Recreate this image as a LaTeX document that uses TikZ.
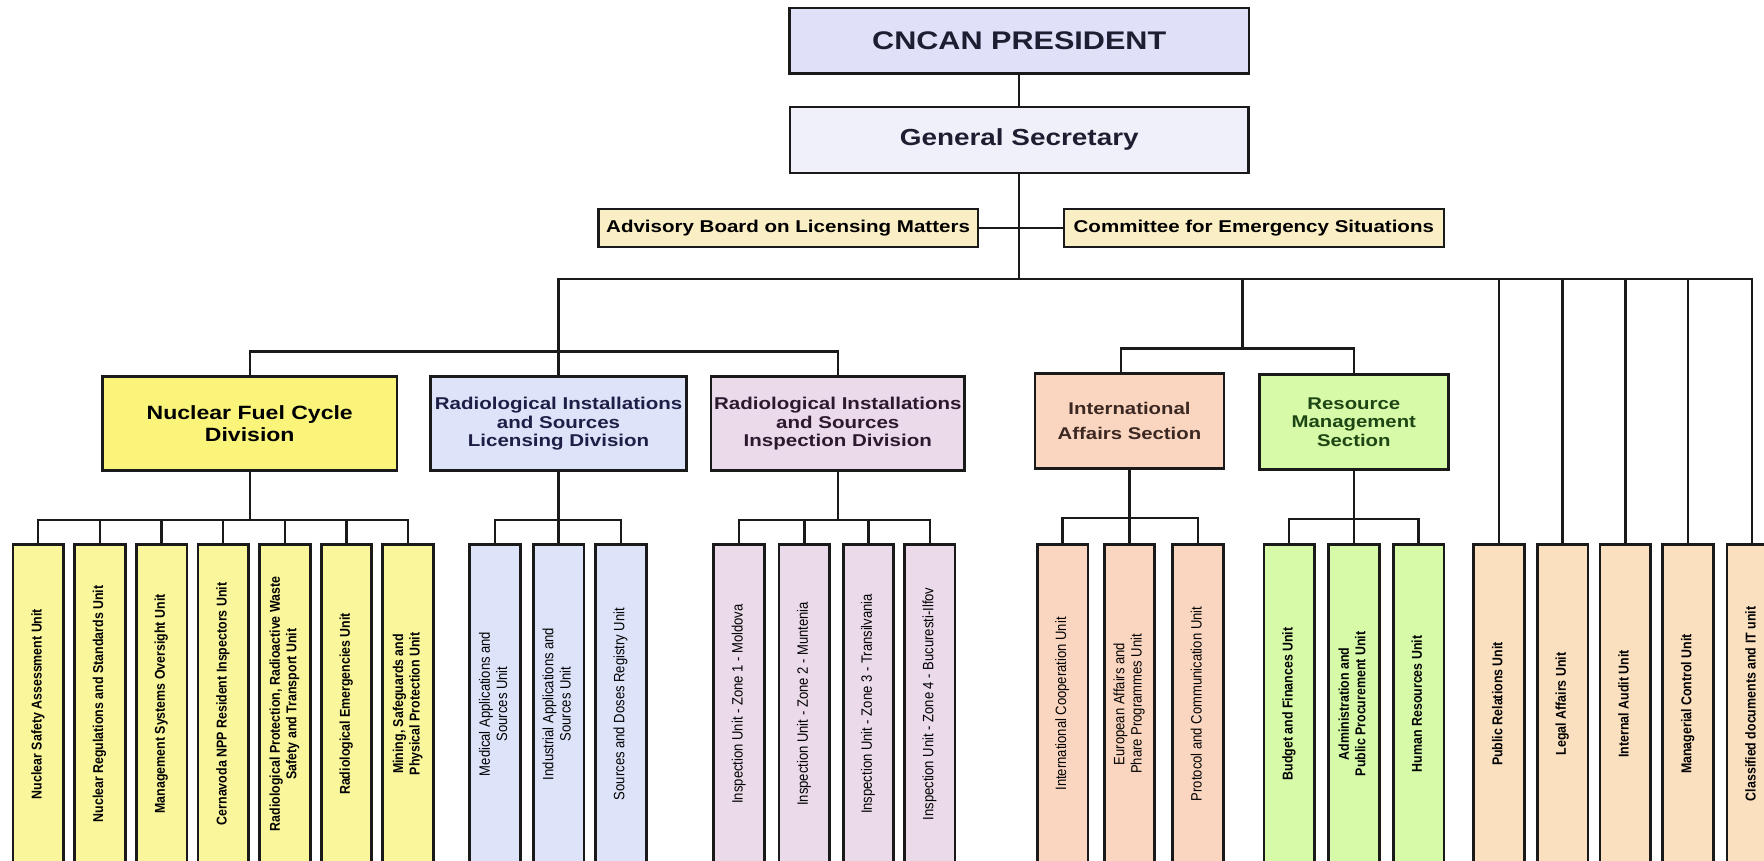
\documentclass[tikz,border=0pt]{standalone}
\usepackage{graphicx}
\usepackage{fontspec}
\setmainfont{Liberation Sans}[FakeStretch=1.2]
\newfontfamily\unitfont{Liberation Sans}[FakeStretch=0.87]

\definecolor{boxline}{RGB}{26,26,26}
\definecolor{presFill}{RGB}{224,224,248}
\definecolor{gsFill}{RGB}{240,240,250}
\definecolor{advFill}{RGB}{250,238,196}
\definecolor{nfcFill}{RGB}{250,244,122}
\definecolor{nfcUnit}{RGB}{250,246,155}
\definecolor{rislFill}{RGB}{221,228,250}
\definecolor{risiFill}{RGB}{234,218,234}
\definecolor{iaFill}{RGB}{250,214,192}
\definecolor{rmFill}{RGB}{214,250,168}
\definecolor{psFill}{RGB}{250,224,190}
\definecolor{presText}{RGB}{30,30,50}
\definecolor{rislText}{RGB}{30,30,70}
\definecolor{risiText}{RGB}{45,25,45}
\definecolor{iaText}{RGB}{60,40,35}
\definecolor{rmText}{RGB}{30,70,20}

\tikzset{every picture/.style={line width=1.6pt}}
\tikzset{
  link/.style={draw=boxline, line width=1.6pt},
  topbox/.style={draw=boxline, line width=1.5pt, inner sep=0pt, align=center},
  divbox/.style={draw=boxline, line width=1.8pt, inner sep=0pt, align=center, minimum height=62.8pt},
  unitbox/.style={draw=boxline, line width=1.8pt, inner sep=0pt, anchor=north, minimum width=33.75pt, minimum height=212.25pt},
  unitB/.style={unitbox, font=\unitfont\bfseries\fontsize{9.5}{11}\selectfont},
  unitR/.style={unitbox, font=\unitfont\fontsize{10}{11.5}\selectfont},
}
\newcommand{\vtext}[1]{\rotatebox{90}{\begin{tabular}{@{}c@{}}#1\end{tabular}}}

\begin{document}
\begin{tikzpicture}[x=0.75pt,y=0.75pt,yscale=-1,xscale=1]
	\useasboundingbox (0,0) rectangle (1568,765);

	%Shape: Rectangle [president and secretary]
	\node[topbox, fill=presFill, text=presText, minimum width=306.3pt, minimum height=43.4pt, font=\bfseries\fontsize{17}{20}\selectfont] (pres) at (906,36.3) {CNCAN PRESIDENT};
	\node[topbox, fill=gsFill, text=presText, minimum width=305.8pt, minimum height=44pt, font=\bfseries\fontsize{15.5}{18}\selectfont] (gensec) at (906,124.2) {General Secretary};
	%Shape: Rectangle [advisory bodies]
	\node[topbox, fill=advFill, minimum width=252.8pt, minimum height=25.5pt, font=\bfseries\fontsize{11.4}{13}\selectfont] (adv) at (700.5,202.8) {Advisory Board on Licensing Matters};
	\node[topbox, fill=advFill, minimum width=253.3pt, minimum height=25.5pt, font=\bfseries\fontsize{11.4}{13}\selectfont] (com) at (1114.5,202.8) {Committee for Emergency Situations};

	%Shape: Rectangle [divisions and sections]
	\node[divbox, fill=nfcFill, minimum width=196.5pt, font=\bfseries\fontsize{12.8}{14.5}\selectfont] (nfc) at (222,376.6) {Nuclear Fuel Cycle\\Division};
	\node[divbox, fill=rislFill, text=rislText, minimum width=170.3pt, font=\bfseries\fontsize{11.4}{12.3}\selectfont] (risl) at (496.5,376.6) {Radiological Installations\\and Sources\\Licensing Division};
	\node[divbox, fill=risiFill, text=risiText, minimum width=169pt, font=\bfseries\fontsize{11.4}{12.3}\selectfont] (risi) at (744.7,376.6) {Radiological Installations\\and Sources\\Inspection Division};
	\node[divbox, fill=iaFill, text=iaText, minimum width=126pt, minimum height=63.5pt, font=\bfseries\fontsize{11.3}{16.4}\selectfont] (ia) at (1004,374.3) {International\\Affairs Section};
	\node[divbox, fill=rmFill, text=rmText, minimum width=125.9pt, minimum height=63.4pt, font=\bfseries\fontsize{11.3}{12.4}\selectfont] (rm) at (1203.4,375) {Resource\\Management\\Section};

	%Shape: Rectangle [units]
	\foreach \x/\name [count=\i] in {34/{Nuclear Safety Assessment Unit}, 88.8/{Nuclear Regulations and Standards Unit}, 143.6/{Management Systems Oversight Unit}, 198.4/{Cernavoda NPP Resident Inspectors Unit}, 253.2/{Radiological Protection, Radioactive Waste\\Safety and Transport Unit}, 308/{Radiological Emergencies Unit}, 362.8/{Mining, Safeguards and\\Physical Protection Unit}}
		\node[unitB, fill=nfcUnit] (nfcU\i) at (\x,483) {\vtext{\name}};
	\foreach \x/\name [count=\i] in {440/{Medical Applications and\\Sources Unit}, 496.5/{Industrial Applications and\\Sources Unit}, 552/{Sources and Doses Registry Unit}}
		\node[unitR, fill=rislFill] (rislU\i) at (\x,483) {\vtext{\name}};
	\foreach \x/\name [count=\i] in {657/{Inspection Unit - Zone 1 - Moldova}, 715/{Inspection Unit - Zone 2 - Muntenia}, 772/{Inspection Unit - Zone 3 - Transilvania}, 826.5/{Inspection Unit - Zone 4 - Bucuresti-Ilfov}}
		\node[unitR, fill=risiFill] (risiU\i) at (\x,483) {\vtext{\name}};
	\foreach \x/\name [count=\i] in {944.5/{International Cooperation Unit}, 1004/{European Affairs and\\Phare Programmes Unit}, 1065/{Protocol and Communication Unit}}
		\node[unitR, fill=iaFill] (iaU\i) at (\x,483) {\vtext{\name}};
	\foreach \x/\name [count=\i] in {1146/{Budget and Finances Unit}, 1203.4/{Administration and\\Public Procurement Unit}, 1261/{Human Resources Unit}}
		\node[unitB, fill=rmFill] (rmU\i) at (\x,483) {\vtext{\name}};
	\foreach \x/\name [count=\i] in {1332.5/{Public Relations Unit}, 1389/{Legal Affairs Unit}, 1444.8/{Internal Audit Unit}, 1500.5/{Managerial Control Unit}, 1557.5/{Classified documents and IT unit}}
		\node[unitB, fill=psFill] (psU\i) at (\x,483) {\vtext{\name}};

	%Straight Lines [top]
	\coordinate (hub) at (906,248);
	\coordinate (divJ) at (496.5,312.6);
	\coordinate (secJ) at (1104.4,309.6);
	\draw[link] (pres) -- (gensec);
	\draw[link] (gensec.south) -- (hub);
	\draw[link] (adv) -- (com);
	\draw[link] (risl.north) |- (hub) -- (hub -| psU5.north) -- (psU5.north);
	\foreach \i in {1,...,4}
		\draw[link] (psU\i.north) -- (psU\i.north |- hub);
	\draw[link] (nfc.north) |- (divJ) -| (risi.north);
	\draw[link] (secJ |- hub) -- (secJ);
	\draw[link] ([xshift=-5.85pt]ia.north) |- (secJ) -| (rm.north);

	%Straight Lines [to units]
	\draw[link] (nfc.south) -- ++(0,42.6) coordinate (nfcJ);
	\draw[link] (nfcU1.north) |- (nfcJ) -| (nfcU7.north);
	\foreach \i in {2,...,6}
		\draw[link] (nfcU\i.north) -- (nfcU\i.north |- nfcJ);
	\draw[link] (risl.south) -- ++(0,42.6) coordinate (rislJ);
	\draw[link] (rislU1.north) |- (rislJ) -| (rislU3.north);
	\draw[link] (rislU2.north) -- (rislU2.north |- rislJ);
	\draw[link] (risi.south) -- ++(0,42.6) coordinate (risiJ);
	\draw[link] (risiU1.north) |- (risiJ) -| (risiU4.north);
	\foreach \i in {2,3}
		\draw[link] (risiU\i.north) -- (risiU\i.north |- risiJ);
	\draw[link] (ia.south) -- ++(0,42.6) coordinate (iaJ);
	\draw[link] (iaU1.north) |- (iaJ) -| (iaU3.north);
	\draw[link] (iaU2.north) -- (iaU2.north |- iaJ);
	\draw[link] (rm.south) -- ++(0,42.6) coordinate (rmJ);
	\draw[link] (rmU1.north) |- (rmJ) -| (rmU3.north);
	\draw[link] (rmU2.north) -- (rmU2.north |- rmJ);

\end{tikzpicture}
\end{document}
